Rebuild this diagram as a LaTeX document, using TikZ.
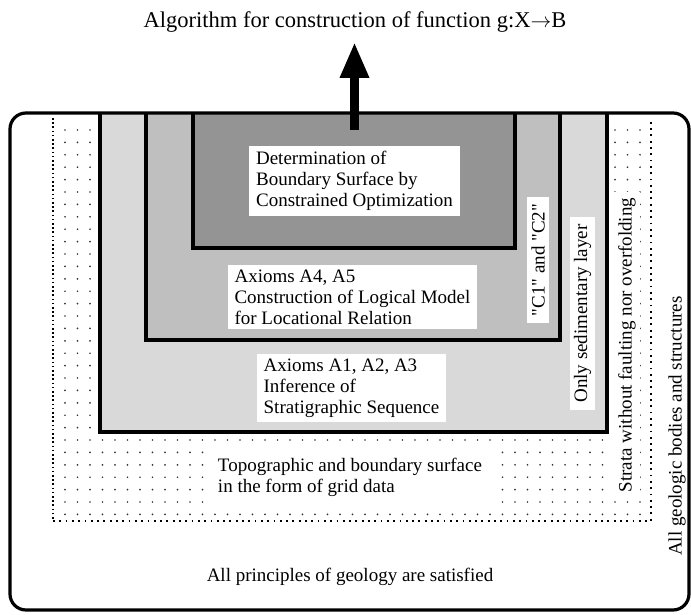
\documentclass[tikz,border=0pt]{standalone}
\usepackage{fontspec}
\setmainfont{Liberation Serif}
\usetikzlibrary{arrows.meta}
\definecolor{sedgray}{gray}{0.85}
\definecolor{midgray}{gray}{0.75}
\definecolor{darkgray}{gray}{0.58}
\begin{document}
\begin{tikzpicture}[x=1pt,y=-1pt,
  txt/.style={font=\fontsize{19}{21}\selectfont},
  labelbox/.style={txt, fill=white, align=left, inner xsep=7pt, inner ysep=5pt},
  frame/.style={line width=3.2pt},
  griddot/.style={fill=black!80},
  edgedots/.style={line width=2.2pt},
]
\useasboundingbox (0,0) rectangle (691,615);

% regular grid of dots (data region)
\begin{scope}
  \clip (57,118) rectangle (647,518);
  \foreach \i in {0,...,46}
    \foreach \j in {0,...,31}
      \fill[griddot] (65+12.5*\i,130+12.4*\j) circle (0.95);
\end{scope}

% nested domains, open to the top edge
\fill[sedgray] (100,113) rectangle (607,432);
\draw[frame] (100,113) -- (100,432) -- (607,432) -- (607,113);
\fill[midgray] (146,113) rectangle (560,340);
\draw[frame] (146,113) -- (146,340) -- (560,340) -- (560,113);
\fill[darkgray] (193,113) rectangle (515,248);
\draw[frame] (193,113) -- (193,248) -- (515,248) -- (515,113);

% dense dotted boundary of the strata region
\coordinate (dtl) at (53,118);
\coordinate (dbl) at (53,521);
\coordinate (dbr) at (651,521);
\coordinate (dtr) at (651,118);
\draw[edgedots, dash pattern=on 1.6pt off 2.6pt] (dtl) -- (dbl);
\draw[edgedots, dash pattern=on 1.8pt off 4.5pt] (dbl) -- (dbr) -- (dtr);

% labels
\node[labelbox] (det) at (354.5,181) {Determination of\\Boundary Surface by\\Constrained Optimization};
\node[labelbox] (ax45) at (352.5,297) {Axioms A4, A5\\Construction of Logical Model\\for Locational Relation};
\node[labelbox] (ax13) at (351.5,388) {Axioms A1, A2, A3\\Inference of\\Stratigraphic Sequence};
\node[labelbox, rotate=90, inner ysep=4pt] (c12) at (538,260) {\textquotedbl C1\textquotedbl{} and \textquotedbl C2\textquotedbl};
\node[labelbox, rotate=90, inner ysep=4pt] (sed) at (582.5,313.5) {Only sedimentary layer};
\node[labelbox, rotate=90, inner ysep=4pt, inner xsep=6pt] (strata) at (627,345) {Strata without faulting nor overfolding};
\node[txt, rotate=90] (allgeo) at (677,426) {All geologic bodies and structures};
\node[labelbox, inner xsep=12pt, inner ysep=8pt] (topo) at (350,477) {Topographic and boundary surface\\in the form of grid data};
\node[txt] (allpr) at (350,577) {All principles of geology are satisfied};
\node[txt, font=\fontsize{22.5}{26}\selectfont] (title) at (355,22) {Algorithm for construction of function g:X$\to$B};

% outer frame
\draw[line width=3.2pt, rounded corners=16pt] (10,113) rectangle (689,610);

% output arrow
\coordinate (arrowfoot) at (354.5,130);
\coordinate (arrowtip) at (354.5,42);
\draw[line width=9pt, -{Triangle[width=27pt,length=36pt]}] (arrowfoot) -- (arrowtip);
\end{tikzpicture}
\end{document}
